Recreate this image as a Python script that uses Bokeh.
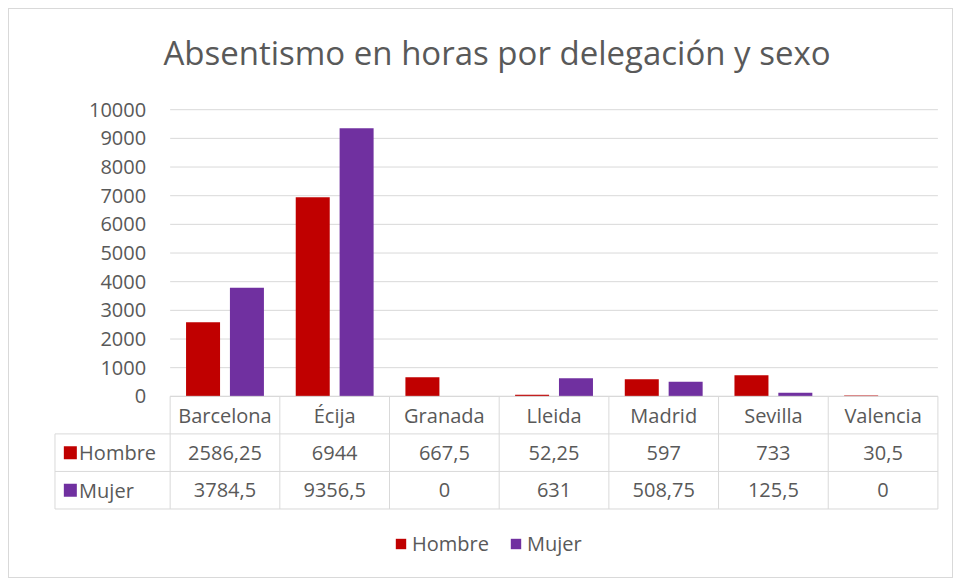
import numpy as np
from bokeh.plotting import figure
from bokeh.models import Range1d, Legend, LegendItem
from bokeh.core.properties import value
from bokeh.embed import file_html
from bokeh.resources import INLINE

# ---- data ----
categories = ["Barcelona", "Écija", "Granada", "Lleida", "Madrid", "Sevilla", "Valencia"]
hombre = [2586.25, 6944, 667.5, 52.25, 597, 733, 30.5]
mujer = [3784.5, 9356.5, 0, 631, 508.75, 125.5, 0]
series_names = ["Hombre", "Mujer"]
y_ticks = [0, 1000, 2000, 3000, 4000, 5000, 6000, 7000, 8000, 9000, 10000]

# ---- style ----
RED = "#C00000"
PURPLE = "#7030A0"
TXT = "#595959"
LINE = "#d9d9d9"
FONT = "Open Sans"
ROW_H = 1310
HEADER_LEFT = -1.55
OFF = 0.2
BAR_W = 0.31

def fmt(v):
    return f"{v:g}".replace(".", ",")

idx = np.arange(len(categories))
n = len(categories)

p = figure(width=945, height=570, output_backend="svg", toolbar_location=None,
           x_range=Range1d(-1.6, 6.56), y_range=Range1d(-6250, 10600),
           min_border_left=40, min_border_right=10, min_border_top=81, min_border_bottom=4,
           title="Absentismo en horas por delegación y sexo")
p.styles = {"border": "1px solid #d9d9d9", "margin-left": "8px", "margin-top": "8px"}
p.outline_line_color = None
p.xaxis.visible = False
p.yaxis.visible = False
p.xgrid.visible = False
p.ygrid.visible = False
p.title.text_font = FONT
p.title.text_font_size = "33px"
p.title.text_font_style = "normal"
p.title.text_color = TXT
p.title.align = "center"
p.title.standoff = 36

# grid lines
p.segment(x0=[-0.5] * len(y_ticks), x1=[n - 0.5] * len(y_ticks), y0=y_ticks, y1=y_ticks,
          line_color=LINE, line_width=1)

# y tick labels
p.text(x=[-0.5] * len(y_ticks), y=y_ticks, text=[str(t) for t in y_ticks], x_offset=-24,
       text_align="right", text_baseline="middle", text_font=value(FONT),
       text_font_size="20px", text_color=TXT)

# bars
rh = p.vbar(x=list(idx - OFF), top=hombre, width=BAR_W, bottom=0, fill_color=RED, line_color=None)
rm = p.vbar(x=list(idx + OFF), top=mujer, width=BAR_W, bottom=0, fill_color=PURPLE, line_color=None)

# data table lines
row_lines = [0, -ROW_H, -2 * ROW_H, -3 * ROW_H]
p.segment(x0=[-0.5] + [HEADER_LEFT] * 3, x1=[n - 0.5] * 4, y0=row_lines, y1=row_lines,
          line_color=LINE, line_width=1)
vx = [float(i) - 0.5 for i in range(n + 1)]
p.segment(x0=vx, x1=vx, y0=[0] * len(vx), y1=[-3 * ROW_H] * len(vx), line_color=LINE, line_width=1)
p.segment(x0=[HEADER_LEFT], x1=[HEADER_LEFT], y0=[-ROW_H], y1=[-3 * ROW_H], line_color=LINE, line_width=1)

# table texts
p.text(x=list(idx), y=[-0.5 * ROW_H] * n, text=categories, text_align="center", text_baseline="middle",
       text_font=value(FONT), text_font_size="20px", text_color=TXT)
p.text(x=list(idx), y=[-1.5 * ROW_H] * n, text=[fmt(v) for v in hombre], text_align="center",
       text_baseline="middle", text_font=value(FONT), text_font_size="20px", text_color=TXT)
p.text(x=list(idx), y=[-2.5 * ROW_H] * n, text=[fmt(v) for v in mujer], text_align="center",
       text_baseline="middle", text_font=value(FONT), text_font_size="20px", text_color=TXT)

# row headers
p.scatter(x=[HEADER_LEFT + 0.14] * 2, y=[-1.5 * ROW_H, -2.5 * ROW_H], marker="square", size=13,
          fill_color=[RED, PURPLE], line_color=None)
p.text(x=[HEADER_LEFT + 0.22] * 2, y=[-1.5 * ROW_H, -2.5 * ROW_H], text=series_names,
       text_align="left", text_baseline="middle", text_font=value(FONT),
       text_font_size="20px", text_color=TXT)

legend = Legend(items=[LegendItem(label=series_names[0], renderers=[rh]),
                       LegendItem(label=series_names[1], renderers=[rm])],
                orientation="horizontal", location=(345, 18))
legend.label_text_font = FONT
legend.label_text_font_size = "20px"
legend.label_text_color = TXT
legend.glyph_width = 13
legend.glyph_height = 13
legend.label_standoff = 5
legend.spacing = 20
legend.padding = 0
legend.margin = 0
legend.border_line_color = None
legend.background_fill_alpha = 0
p.add_layout(legend)

open("out.html", "w").write(file_html(p, INLINE))
